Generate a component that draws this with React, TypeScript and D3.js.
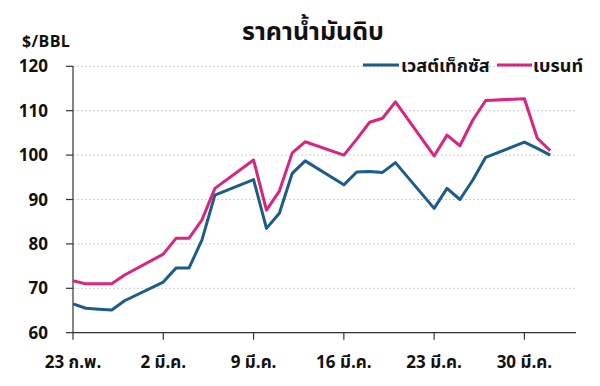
import React from "react";
import * as d3 from "d3";

const dates = [
  "2022-02-23", "2022-02-24", "2022-02-25", "2022-02-26", "2022-02-27",
  "2022-03-02", "2022-03-03", "2022-03-04", "2022-03-05", "2022-03-06",
  "2022-03-09", "2022-03-10", "2022-03-11", "2022-03-12", "2022-03-13",
  "2022-03-16", "2022-03-17", "2022-03-18", "2022-03-19", "2022-03-20",
  "2022-03-23", "2022-03-24", "2022-03-25", "2022-03-26", "2022-03-27",
  "2022-03-30", "2022-03-31", "2022-04-01",
];
const wti = [
  66.5, 65.5, 65.3, 65.1, 67.2,
  71.4, 74.6, 74.6, 80.9, 91.0,
  94.5, 83.5, 86.9, 95.9, 98.7,
  93.3, 96.2, 96.3, 96.1, 98.3,
  88.0, 92.5, 90.0, 94.4, 99.5,
  102.9, 101.5, 100.0,
];
const brent = [
  71.7, 71.0, 71.0, 71.0, 73.0,
  77.7, 81.3, 81.3, 85.4, 92.5,
  98.9, 87.6, 91.9, 100.5, 103.0,
  100.0, 103.6, 107.4, 108.3, 112.0,
  99.8, 104.5, 102.1, 107.9, 112.3,
  112.7, 103.8, 101.0,
];
const seriesNames = ["เวสต์เท็กซัส", "เบรนท์"];
const seriesColors = ["#1b5c8a", "#d9257f"];
const yTicks = [60, 70, 80, 90, 100, 110, 120];
const xTickDates = ["2022-02-23", "2022-03-02", "2022-03-09", "2022-03-16", "2022-03-23", "2022-03-30"];
const xTickLabels = ["23 ก.พ.", "2 มี.ค.", "9 มี.ค.", "16 มี.ค.", "23 มี.ค.", "30 มี.ค."];
const title = "ราคาน้ำมันดิบ";
const unitLabel = "$/BBL";
const xDomain = ["2022-02-23", "2022-04-03"];

const FONT = "'Noto Sans Thai', 'Noto Sans', 'Liberation Sans', sans-serif";

export default function App() {
  const W = 600, H = 386;
  const left = 73, right = 576, top = 66.3, bottom = 332.7;
  const parse = (s: string) => new Date(s + "T00:00:00Z");
  const x = d3.scaleUtc().domain(xDomain.map(parse)).range([left, right]);
  const y = d3.scaleLinear().domain([60, 120]).range([bottom, top]);

  const allSeries = [wti, brent];
  const line = d3
    .line<[Date, number]>()
    .x((d) => x(d[0]))
    .y((d) => y(d[1]));

  return (
    <svg width={W} height={H} style={{ position: "absolute", left: 0, top: 0, background: "#fff" }} fontFamily={FONT}>
      <rect width={W} height={H} fill="#fff" />
      <text x={313} y={40} textAnchor="middle" fontSize={25} fontWeight={700} fill="#111">{title}</text>
      <text x={22} y={47} fontSize={16} fontWeight={700} fill="#111" letterSpacing={0.4}>{unitLabel}</text>
      {yTicks.filter((t) => t !== 60).map((t) => (
        <line key={"g" + t} x1={left} x2={right} y1={y(t)} y2={y(t)} stroke="#cfcfcf" strokeWidth={1} strokeDasharray="2,2" />
      ))}
      {yTicks.map((t) => (
        <g key={"y" + t}>
          <line x1={left - 7} x2={left} y1={y(t)} y2={y(t)} stroke="#333" strokeWidth={1.2} />
          <text x={48} y={y(t)} dy="0.36em" textAnchor="end" fontSize={17} fontWeight={700} fill="#111">{t}</text>
        </g>
      ))}
      {xTickDates.map((d, i) => (
        <g key={"x" + d}>
          <line x1={x(parse(d))} x2={x(parse(d))} y1={bottom} y2={bottom + 7} stroke="#333" strokeWidth={1.2} />
          <text x={x(parse(d))} y={368} textAnchor="middle" fontSize={17} fontWeight={700} fill="#111">{xTickLabels[i]}</text>
        </g>
      ))}
      <line x1={left} x2={left} y1={top} y2={bottom} stroke="#333" strokeWidth={1.2} />
      <line x1={left} x2={right} y1={bottom} y2={bottom} stroke="#333" strokeWidth={1.2} />
      {allSeries.map((s, i) => (
        <path
          key={"s" + i}
          d={line(dates.map((d, j) => [parse(d), s[j]] as [Date, number])) || ""}
          fill="none"
          stroke={seriesColors[i]}
          strokeWidth={3}
          strokeLinejoin="round"
        />
      ))}
      <line x1={363} x2={399} y1={65} y2={65} stroke={seriesColors[0]} strokeWidth={3} />
      <text x={401} y={71.5} fontSize={18} fontWeight={700} fill="#111">{seriesNames[0]}</text>
      <line x1={497} x2={532} y1={65} y2={65} stroke={seriesColors[1]} strokeWidth={3} />
      <text x={533} y={71.5} fontSize={18} fontWeight={700} fill="#111">{seriesNames[1]}</text>
    </svg>
  );
}
